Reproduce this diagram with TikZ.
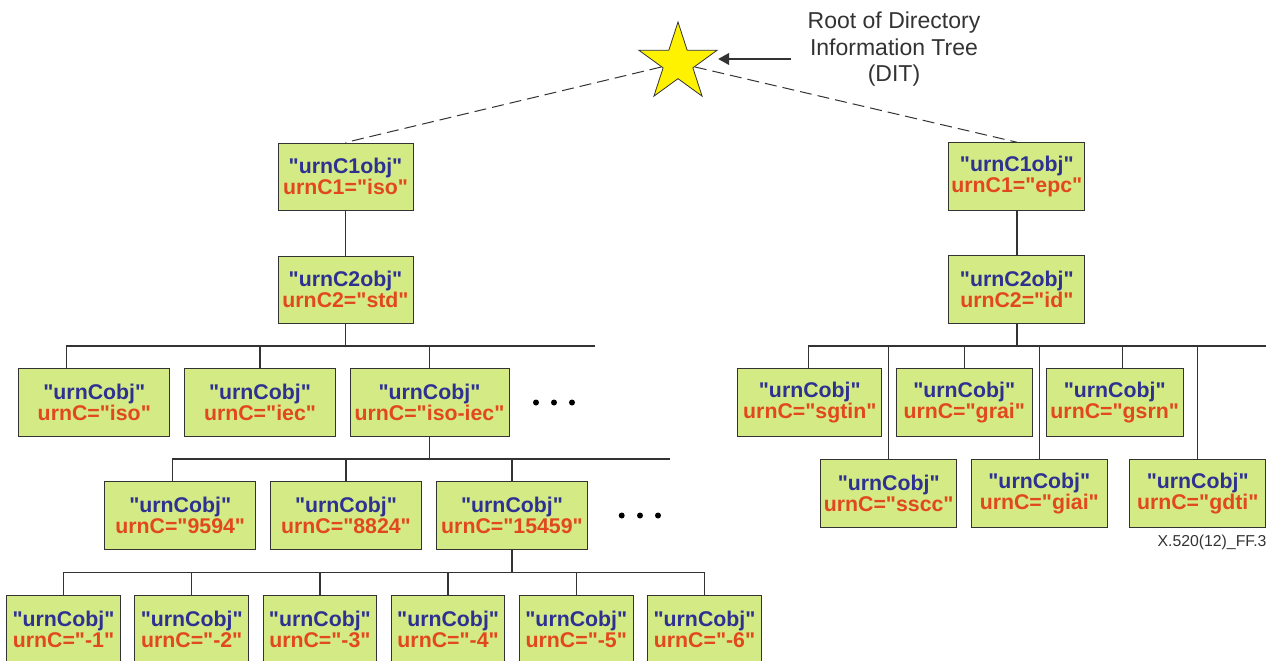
\documentclass[tikz,border=0pt]{standalone}
\usepackage{fontspec}
\setmainfont{Liberation Sans}
\newfontfamily\urnfont{Liberation Sans}
\usepackage{tikz}
\usetikzlibrary{calc}
\usetikzlibrary{shapes}
\usetikzlibrary{arrows.meta}

\definecolor{objblue}{RGB}{46,49,146}
\definecolor{objred}{RGB}{226,72,30}
\definecolor{objgreen}{RGB}{212,234,132}
\definecolor{linegray}{RGB}{51,51,51}
\definecolor{stargold}{RGB}{255,242,0}

\newcommand{\urnbox}[2]{\textcolor{objblue}{"#1"}\\\textcolor{objred}{#2}}

\begin{document}
\begin{tikzpicture}[x=1pt,y=-1pt,
  box/.style={draw=linegray, line width=1pt, fill=objgreen, inner sep=0pt,
    align=center, minimum height=68pt, font=\urnfont\fontsize{21.3}{21}\selectfont\bfseries},
  link/.style={draw=linegray, line width=1.4pt},
  dashlink/.style={draw=linegray, line width=1pt, dash pattern=on 12pt off 6pt}]
\useasboundingbox (0,0) rectangle (1277,661);

% root of the tree
\node[star, star points=5, star point ratio=2.618, minimum size=82pt, inner sep=0pt,
  draw=linegray, line width=0.8pt, fill=stargold] (root) at (678,63) {};
\node[font=\fontsize{23}{26.5}\selectfont, text=linegray, align=center, inner sep=0pt,
  anchor=north] (dit) at (894,12) {Root of Directory\\Information Tree\\(DIT)};
\coordinate (tail) at (791,59);
\draw[link, line width=1.2pt, -{Triangle[length=11pt,width=12pt]}] (tail) -- (tail -| root.outer point 5);

% left branch
\node[box, minimum width=135pt, minimum height=67pt] (c1iso) at (345.5,176.5) {\urnbox{urnC1obj}{urnC1="iso"}};
\node[box, minimum width=135pt, minimum height=67pt] (c2std) at (345.5,289.5) {\urnbox{urnC2obj}{urnC2="std"}};
\node[box, minimum width=151pt] (iso) at (94.3,402.5) {\urnbox{urnCobj}{urnC="iso"}};
\node[box, minimum width=151pt] (iec) at (260,402.5) {\urnbox{urnCobj}{urnC="iec"}};
\node[box, minimum width=159pt] (isoiec) at (429.5,402.5) {\urnbox{urnCobj}{urnC="iso-iec"}};
\node[box, minimum width=151pt] (n9594) at (180.2,515.5) {\urnbox{urnCobj}{urnC="9594"}};
\node[box, minimum width=151pt] (n8824) at (346,515.5) {\urnbox{urnCobj}{urnC="8824"}};
\node[box, minimum width=151pt] (n15459) at (512,515.5) {\urnbox{urnCobj}{urnC="15459"}};
\foreach \i in {1,...,6}
  \node[box, minimum width=113.5pt] (leaf\i) at ({63.5+128.2*(\i-1)},629) {\urnbox{urnCobj}{urnC="-\i"}};

\draw[dashlink] (root) -- (c1iso.north);
\draw[link] (c1iso) -- (c2std);

\coordinate (bus1e) at (595,346);
\draw[link] (bus1e) -| ([xshift=-27.6pt]iso.north);
\draw[link] (c2std.south) -- (c2std.south |- bus1e);
\draw[link] (iec.north) -- (iec.north |- bus1e);
\draw[link] (isoiec.north) -- (isoiec.north |- bus1e);
\foreach \x in {536,554,572}
  \fill[black] (\x,402.5) circle (3pt);

\coordinate (bus2e) at (670,459);
\draw[link] (bus2e) -| ([xshift=-7.9pt]n9594.north);
\draw[link] (isoiec.south) -- (isoiec.south |- bus2e);
\draw[link] (n8824.north) -- (n8824.north |- bus2e);
\draw[link] (n15459.north) -- (n15459.north |- bus2e);
\foreach \x in {621.7,640,658}
  \fill[black] (\x,515.5) circle (3pt);

\coordinate (bus3e) at (704.2,572.3);
\draw[link] (bus3e) -| (leaf1.north);
\draw[link] (n15459.south) -- (n15459.south |- bus3e);
\foreach \i in {2,...,6}
  \draw[link] (leaf\i.north) -- (leaf\i.north |- bus3e);

% right branch
\node[box, minimum width=136.3pt, minimum height=67.6pt] (c1epc) at (1016.8,176.5) {\urnbox{urnC1obj}{urnC1="epc"}};
\node[box, minimum width=136.3pt, minimum height=67.6pt] (c2id) at (1016.8,289.5) {\urnbox{urnC2obj}{urnC2="id"}};
\node[box, minimum width=143.7pt] (sgtin) at (809.8,402.5) {\urnbox{urnCobj}{urnC="sgtin"}};
\node[box, minimum width=135.7pt] (grai) at (964.2,402.5) {\urnbox{urnCobj}{urnC="grai"}};
\node[box, minimum width=136.7pt] (gsrn) at (1114.7,402.5) {\urnbox{urnCobj}{urnC="gsrn"}};
\node[box, minimum width=136pt] (sscc) at (888.7,493.2) {\urnbox{urnCobj}{urnC="sscc"}};
\node[box, minimum width=136pt] (giai) at (1039.3,493.2) {\urnbox{urnCobj}{urnC="giai"}};
\node[box, minimum width=136pt] (gdti) at (1197.7,493.2) {\urnbox{urnCobj}{urnC="gdti"}};

\draw[dashlink] (root) -- (c1epc.north);
\draw[link] (c1epc) -- (c2id);

\coordinate (bus4e) at (1265.7,346);
\draw[link] (bus4e) -| ([xshift=-1.1pt]sgtin.north);
\draw[link] (c2id.south) -- (c2id.south |- bus4e);
\draw[link] (grai.north) -- (grai.north |- bus4e);
\draw[link] ([xshift=7.6pt]gsrn.north) -- ([xshift=7.6pt]gsrn.north |- bus4e);
\draw[link] (sscc.north) -- (sscc.north |- bus4e);
\draw[link] (giai.north) -- (giai.north |- bus4e);
\draw[link] (gdti.north) -- (gdti.north |- bus4e);

\node[font=\fontsize{15.8}{15.8}\selectfont, text=linegray, anchor=base east, inner sep=0pt]
  (figno) at (1266.7,546.7) {X.520(12)\_FF.3};
\end{tikzpicture}
\end{document}
